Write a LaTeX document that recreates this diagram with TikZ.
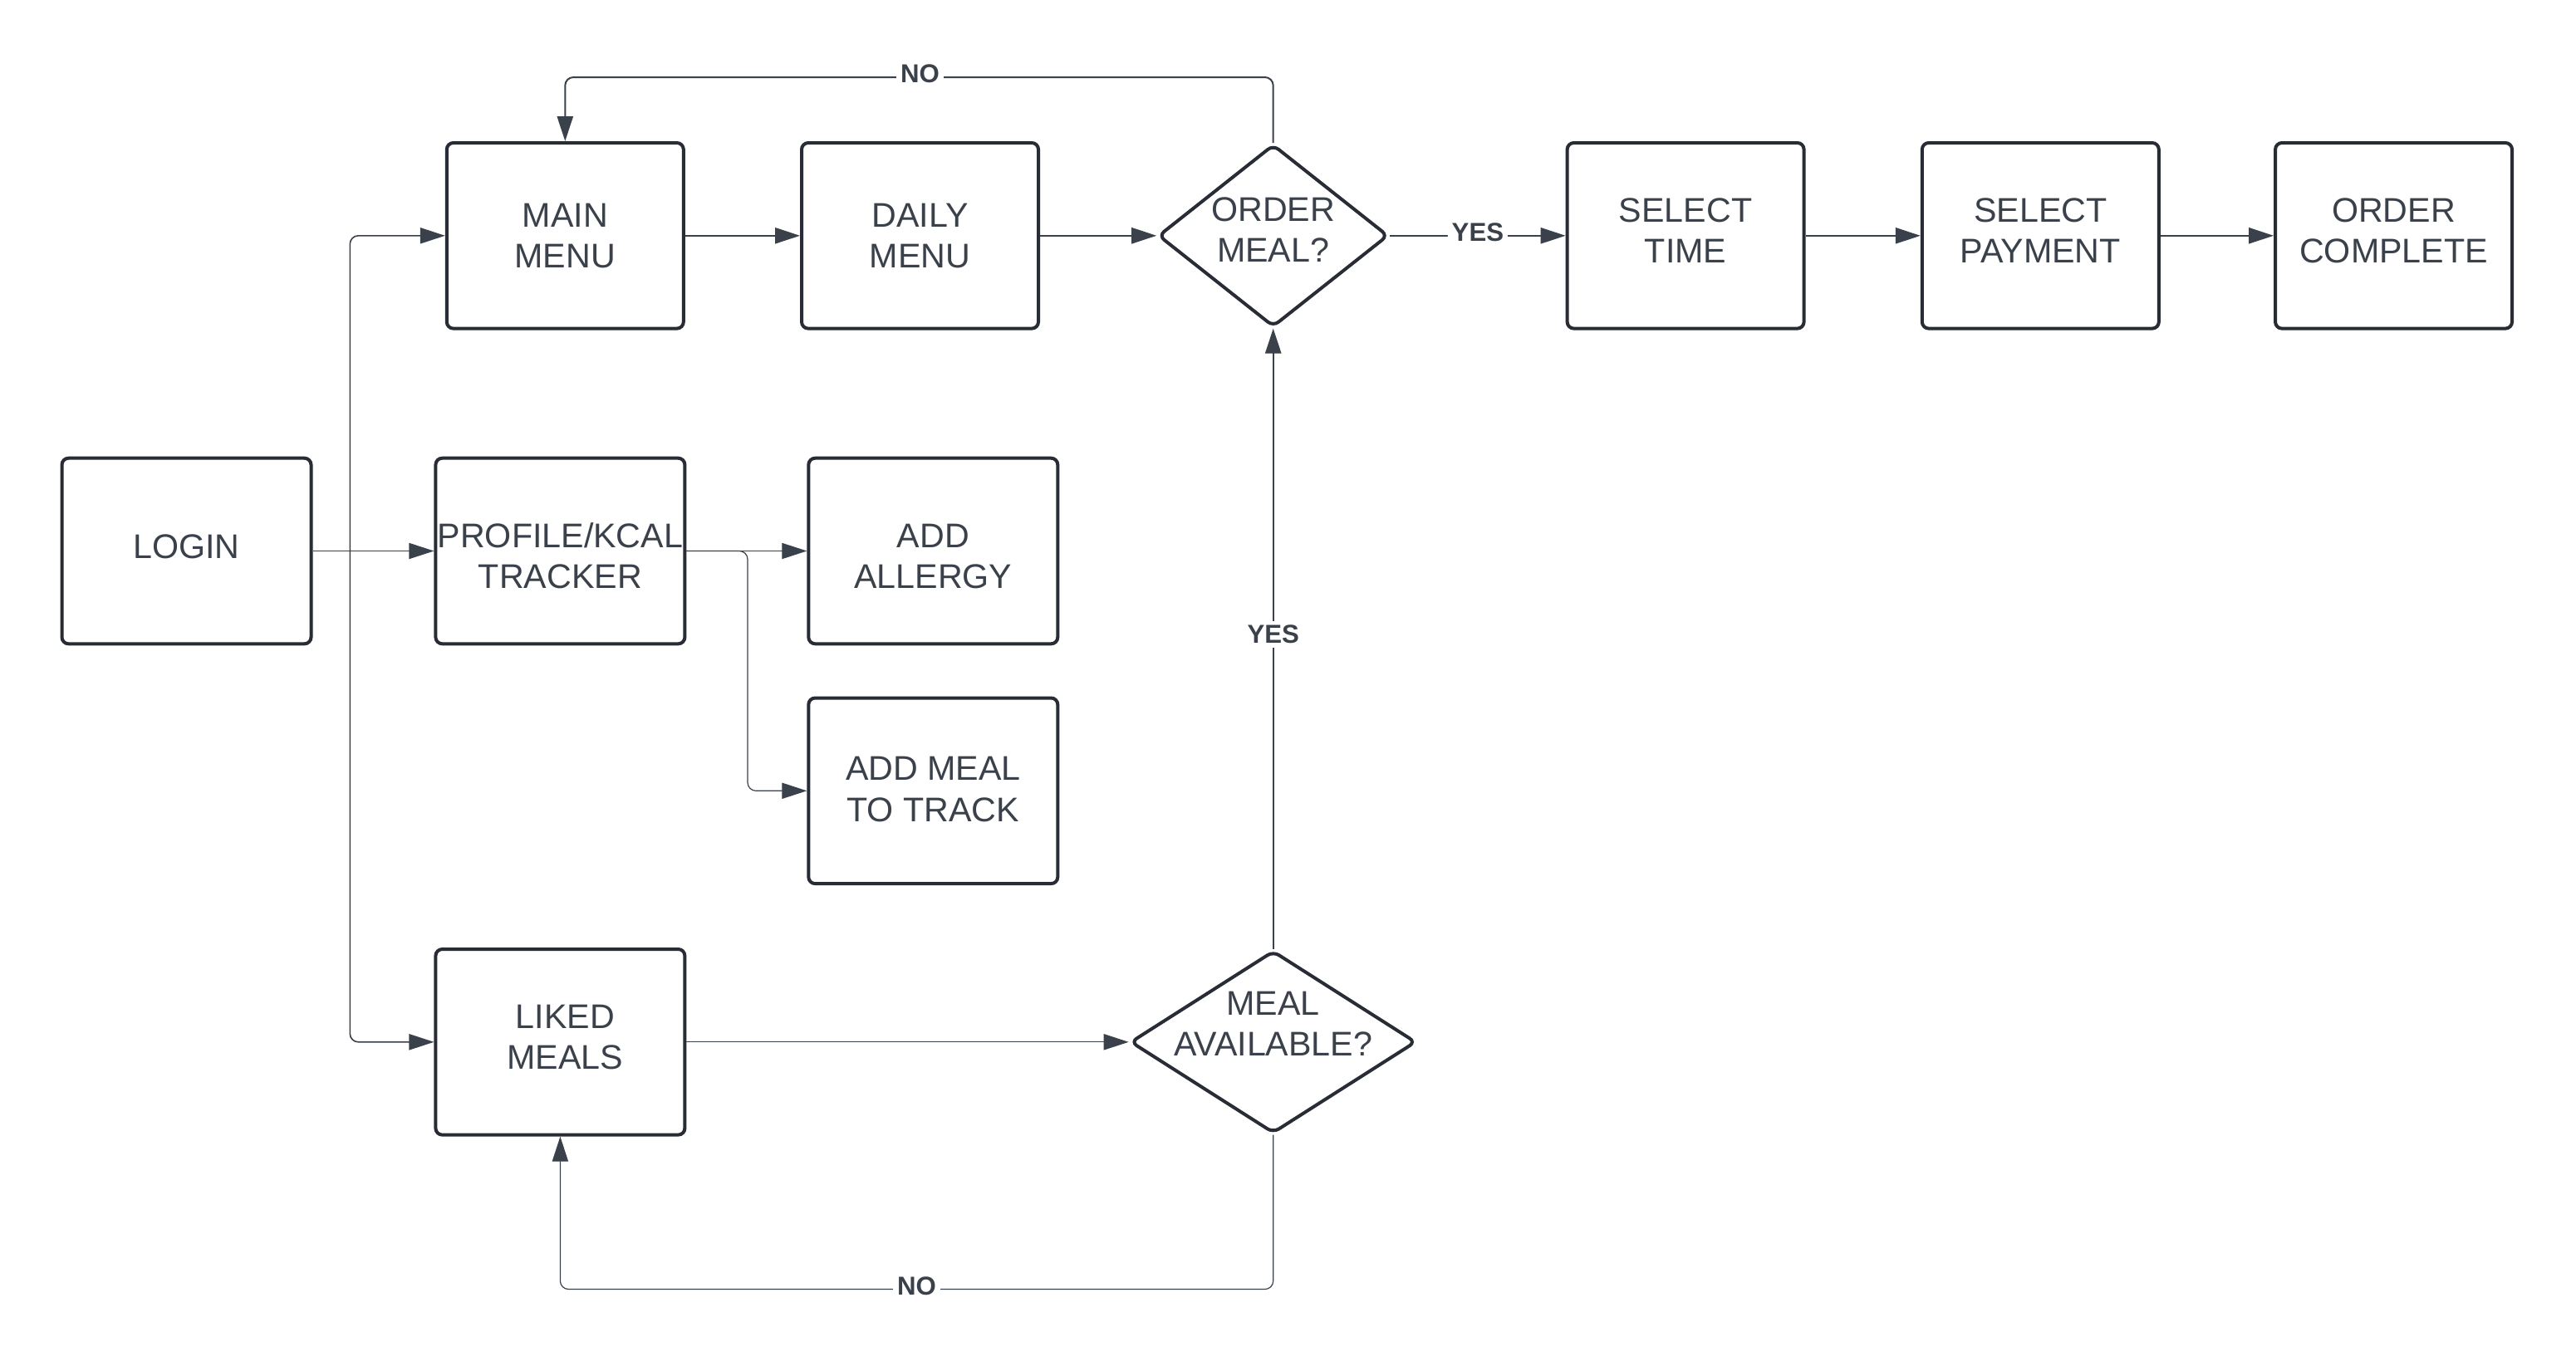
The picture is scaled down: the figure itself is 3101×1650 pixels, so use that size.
\documentclass[tikz,border=0pt]{standalone}
\usepackage{fontspec}
\setmainfont{Liberation Sans}
\usetikzlibrary{shapes.geometric,arrows.meta}
\definecolor{bordercol}{RGB}{40,44,52}
\definecolor{linecol}{RGB}{58,65,74}
\definecolor{textcol}{RGB}{58,65,74}
\begin{document}
\begin{tikzpicture}[x=0.25pt,y=-0.25pt,
  box/.style={draw=bordercol, line width=1pt, rounded corners=2pt, minimum width=75pt, minimum height=55.9pt, align=center, text=textcol, font=\fontsize{10.3}{12.3}\selectfont, inner sep=0pt},
  nbox/.style={box, minimum width=71.25pt},
  dia/.style={draw=bordercol, line width=1pt, shape=diamond, rounded corners=2pt, inner sep=0pt, minimum height=54.9pt},
  dtext/.style={align=center, text=textcol, font=\fontsize{10.3}{12.3}\selectfont, inner sep=0pt},
  conn/.style={draw=linecol, line width=0.5pt, -{Triangle[length=7.5pt,width=4.8pt]}, rounded corners=2.5pt},
  thinconn/.style={conn, line width=0.3pt},
  trunkconn/.style={conn, line width=0.4pt},
  lab/.style={font=\bfseries\fontsize{7.8}{9}\selectfont, text=textcol, fill=white, inner sep=1.2pt},
  tup/.style={text depth=#1},
  tdown/.style={text height=#1}
]
\path[fill=white] (0,0) rectangle (3101,1650);
\useasboundingbox (0,0) rectangle (3101,1650);

% nodes
\node[box, tup=2.5pt] (login) at (224.5,663.5) {LOGIN};
\node[nbox] (main) at (680.3,283.8) {MAIN\\MENU};
\node[nbox] (daily) at (1107.5,283.8) {DAILY\\MENU};
\node[dia, minimum width=69.25pt] (order) at (1532.7,283.8) {};
\node[dtext] (ordertext) at (1532.7,277) {ORDER\\MEAL?};
\node[nbox, tup=3pt] (time) at (2029.1,283.8) {SELECT\\TIME};
\node[nbox, tup=3pt] (pay) at (2456.3,283.8) {SELECT\\PAYMENT};
\node[nbox, tup=3pt] (complete) at (2881.5,283.8) {ORDER\\COMPLETE};
\node[box, tdown=22.7pt] (profile) at (674.4,663.5) {PROFILE/KCAL\\TRACKER};
\node[box, tdown=22.7pt] (allergy) at (1123.3,663.5) {ADD\\ALLERGY};
\node[box, tup=1pt] (addmeal) at (1123.3,952.3) {ADD MEAL\\TO TRACK};
\node[box, tup=3pt] (liked) at (674.4,1254.8) {\hspace*{3pt}LIKED\\\hspace*{3pt}MEALS};
\node[dia, minimum width=86pt] (avail) at (1532.7,1254.8) {};
\node[dtext] (availtext) at (1532.7,1233) {MEAL\\AVAILABLE?};

% helper coordinates
\coordinate (trunk) at (421.3,663.5);
\coordinate (pbr) at (900,663.5);
\coordinate (ntop) at (1107.5,93);
\coordinate (nbot) at (1103.6,1552.5);

% connectors
\draw[thinconn] (login) -- (profile);
\draw[trunkconn] (trunk) |- (main.west);
\draw[trunkconn] (trunk) |- (liked.west);
\draw[conn] (main) -- (daily);
\draw[conn] (daily) -- (order);
\draw[conn] (order) -- node[lab, yshift=1pt] (yes1) {YES} (time);
\draw[conn] (time) -- (pay);
\draw[conn] (pay) -- (complete);
\draw[conn] (order.north) |- (ntop) -| (main.north);
\node[lab, yshift=1pt] (no1) at (ntop) {NO};
\draw[thinconn] (profile) -- (allergy);
\draw[thinconn] (profile.east) -- (pbr) |- (addmeal.west);
\draw[thinconn] (liked) -- (avail);
\draw[conn] (avail.north) -- node[lab, pos=0.507] (yes2) {YES} (order.south);
\draw[thinconn] (avail.south) |- (nbot) -| (liked.south);
\node[lab, yshift=1pt] (no2) at (nbot) {NO};
\end{tikzpicture}
\end{document}
